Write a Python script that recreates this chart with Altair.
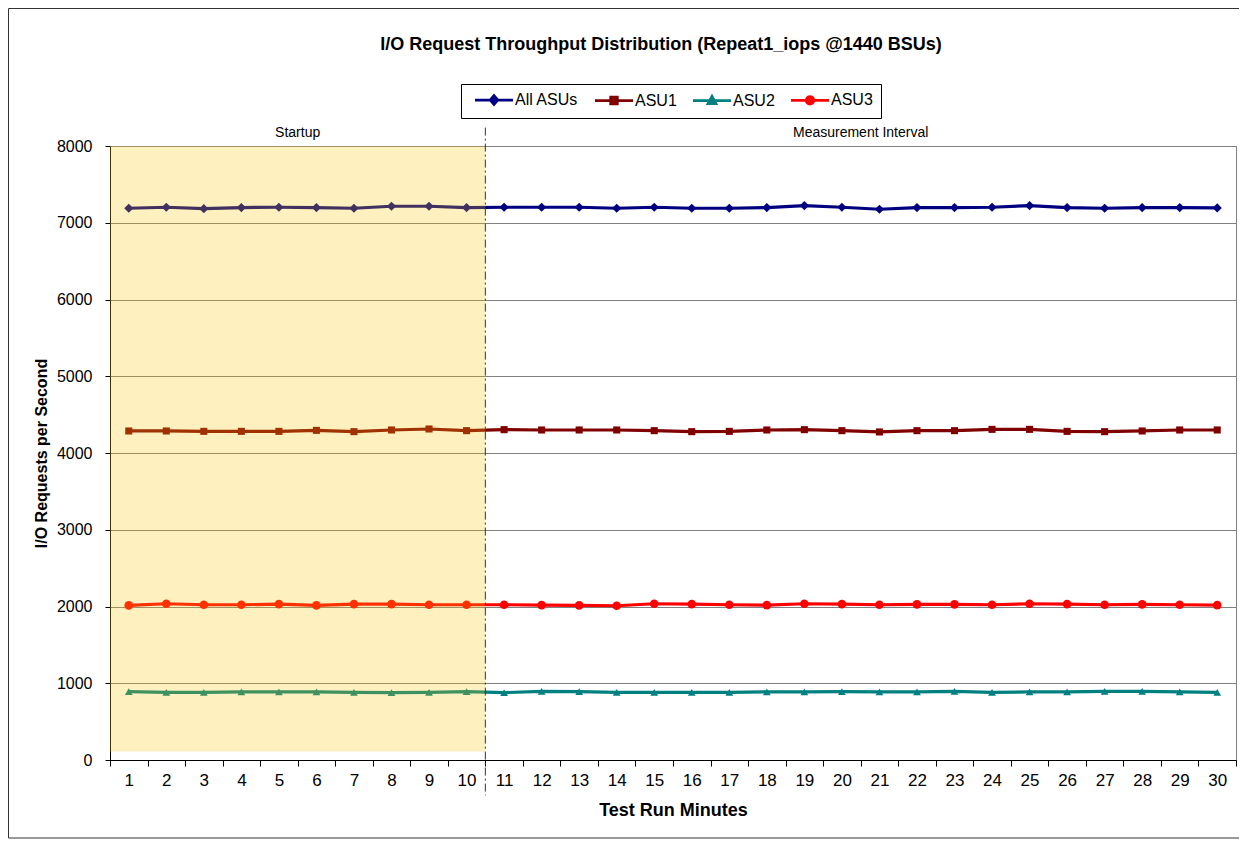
import altair as alt
import pandas as pd

# ---------------- data ----------------
minutes = list(range(1, 31))
series_names = ["All ASUs", "ASU1", "ASU2", "ASU3"]

all_asus = [7189, 7202, 7184, 7198, 7202, 7198, 7189, 7215, 7215, 7198,
            7202, 7202, 7202, 7189, 7202, 7189, 7189, 7198, 7224, 7202,
            7176, 7198, 7198, 7202, 7224, 7198, 7189, 7198, 7198, 7193]
asu1 = [4287, 4287, 4282, 4282, 4282, 4295, 4278, 4300, 4313, 4291,
        4304, 4300, 4300, 4300, 4291, 4278, 4282, 4300, 4304, 4291,
        4274, 4291, 4291, 4308, 4308, 4282, 4278, 4287, 4300, 4300]
asu2 = [891, 882, 882, 887, 887, 887, 882, 878, 882, 891,
        878, 895, 891, 882, 882, 882, 882, 887, 887, 891,
        887, 887, 895, 882, 887, 887, 895, 895, 887, 882]
asu3 = [2014, 2036, 2023, 2023, 2031, 2014, 2031, 2031, 2023, 2023,
        2023, 2018, 2014, 2010, 2036, 2031, 2023, 2018, 2036, 2031,
        2023, 2027, 2027, 2023, 2036, 2031, 2023, 2027, 2023, 2018]

phase_names = ["Startup", "Measurement Interval"]
phase_start = [0.5, 10.5]
phase_end = [10.5, 30.5]

y_ticks = list(range(0, 8001, 1000))
x_tick_edges = [m - 0.5 for m in minutes] + [30.5]

# ---------------- styling ----------------
series_colors = ["#000080", "#800000", "#008080", "#FF0000"]
marker_shapes = ["diamond", "square", "triangle-up", "circle"]
marker_sizes = [85, 50, 60, 75]
legend_paths = [
    "M-3.17,0L3.17,0M0,-0.72L0.62,0L0,0.72L-0.62,0Z",
    "M-3.17,0L3.17,0M-0.55,-0.55L0.55,-0.55L0.55,0.55L-0.55,0.55Z",
    "M-3.17,0L3.17,0M0,-0.7L0.65,0.5L-0.65,0.5Z",
    "M-3.17,0L3.17,0M0.62,0L0.537,0.31L0.31,0.537L0,0.62L-0.31,0.537L-0.537,0.31"
    "L-0.62,0L-0.537,-0.31L-0.31,-0.537L0,-0.62L0.31,-0.537L0.537,-0.31Z",
]

PLOT_W, PLOT_H = 1126, 614
FONT = "Liberation Sans"
band_half = PLOT_W / 30 / 2

rows = []
for name, vals in zip(series_names, [all_asus, asu1, asu2, asu3]):
    for m, v in zip(minutes, vals):
        rows.append({"minute": m, "value": v, "series": name})
df = pd.DataFrame(rows)

phases = pd.DataFrame({"phase": phase_names, "start": phase_start, "end": phase_end})

x_scale = alt.Scale(domain=[0.5, 30.5], nice=False, zero=False)
y_scale = alt.Scale(domain=[0, 8000], nice=False)

x_axis = alt.Axis(
    values=x_tick_edges,
    labelExpr="datum.value < 30 ? format(datum.value + 0.5, 'd') : ''",
    labelOffset=band_half,
    labelFlush=False,
    labelOverlap=False,
    labelBound=False,
    tickSize=6,
    tickColor="black",
    domainColor="black",
    grid=False,
    labelFontSize=17,
    labelPadding=6,
    labelColor="black",
    title="Test Run Minutes",
    titleFontSize=18,
    titleFontWeight="bold",
    titlePadding=13,
    titleColor="black",
)
y_axis = alt.Axis(
    values=y_ticks,
    format="d",
    tickSize=5,
    tickColor="black",
    domainColor="black",
    grid=True,
    gridColor="#808080",
    gridWidth=1,
    labelFontSize=16,
    labelPadding=13,
    labelColor="black",
    title="I/O Requests per Second",
    titleFontSize=16,
    titleFontWeight="bold",
    titlePadding=7,
    titleColor="black",
)


def xq(field):
    return alt.X(field, type="quantitative", scale=x_scale, axis=x_axis)


def yq(field):
    return alt.Y(field, type="quantitative", scale=y_scale, axis=y_axis)


def yd(v):
    return alt.YDatum(v, type="quantitative", scale=y_scale, axis=y_axis)


# colour scale for the drawn series (domain listed in a different order than the
# legend scales so that the hidden colour legend is not merged with the shown one)
color_scale = alt.Scale(domain=series_names[1:] + series_names[:1],
                        range=series_colors[1:] + series_colors[:1])

base = alt.Chart(df)

lines = base.mark_line(strokeWidth=3.2).encode(
    x=xq("minute"), y=yq("value"),
    color=alt.Color("series:N", scale=color_scale, legend=None),
)

point_layers = []
for name, shp, sz in zip(series_names, marker_shapes, marker_sizes):
    point_layers.append(
        base.transform_filter(alt.datum.series == name)
        .mark_point(shape=shp, size=sz, filled=True, opacity=1)
        .encode(x=xq("minute"), y=yq("value"),
                color=alt.Color("series:N", scale=color_scale, legend=None))
    )

legend_def = alt.Legend(
    title=None,
    orient="none",
    legendX=351,
    legendY=-62,
    direction="horizontal",
    symbolSize=144,
    symbolStrokeWidth=2.8,
    symbolOffset=17,
    labelOffset=13,
    columnPadding=10,
    padding=8,
    strokeColor="black",
    labelFontSize=16,
    labelFont=FONT,
    labelColor="black",
    symbolOpacity=1,
)
legend_layer = (
    base.mark_point(filled=True, opacity=0)
    .encode(
        x=xq("minute"), y=yq("value"),
        fill=alt.Fill("series:N", scale=alt.Scale(domain=series_names, range=series_colors), legend=legend_def),
        stroke=alt.Stroke("series:N", scale=alt.Scale(domain=series_names, range=series_colors), legend=legend_def),
        shape=alt.Shape("series:N", scale=alt.Scale(domain=series_names, range=legend_paths), legend=legend_def),
    )
)

startup_shade = (
    alt.Chart(phases)
    .transform_filter(alt.datum.phase == "Startup")
    .mark_rect(color="#FFC400", opacity=0.25)
    .encode(x=xq("start"), x2="end:Q", y=yd(8000), y2=alt.Y2Datum(110))
)

divider = (
    alt.Chart(phases)
    .transform_filter(alt.datum.phase == "Measurement Interval")
    .mark_rule(color="#333333", strokeWidth=1, strokeDash=[8, 3, 2, 3])
    .encode(x=xq("start"), y=yd(8240), y2=alt.Y2Datum(-460))
)

phase_text = (
    alt.Chart(phases)
    .transform_calculate(mid="(datum.start + datum.end) / 2")
    .mark_text(fontSize=14, font=FONT, color="black", baseline="alphabetic")
    .encode(x=xq("mid"), y=yd(8120), text="phase:N")
)

frame = alt.Chart(phases).transform_filter(alt.datum.phase == "Startup").mark_rect(
    fillOpacity=0, stroke="#333333", strokeWidth=1
).encode(x=alt.value(-101.5), x2=alt.value(1140), y=alt.value(-137.5), y2=alt.value(692))

chart = (
    alt.layer(lines, *point_layers, startup_shade, divider, phase_text, legend_layer, frame)
    .properties(
        width=PLOT_W,
        height=PLOT_H,
        padding={"left": 102, "top": 138, "right": 3, "bottom": 80},
        autosize=alt.AutoSizeParams(type="none"),
        title=alt.Title(
            "I/O Request Throughput Distribution (Repeat1_iops @1440 BSUs)",
            fontSize=18, fontWeight="bold", font=FONT, color="black",
            anchor="middle", frame="group", offset=-46, dx=-12,
        ),
    )
    .configure(font=FONT, background="white")
    .configure_view(stroke="#808080", strokeWidth=1)
    .configure_axis(labelFont=FONT, titleFont=FONT)
)

chart.save("out.html", embed_options={"renderer": "svg", "actions": False})
